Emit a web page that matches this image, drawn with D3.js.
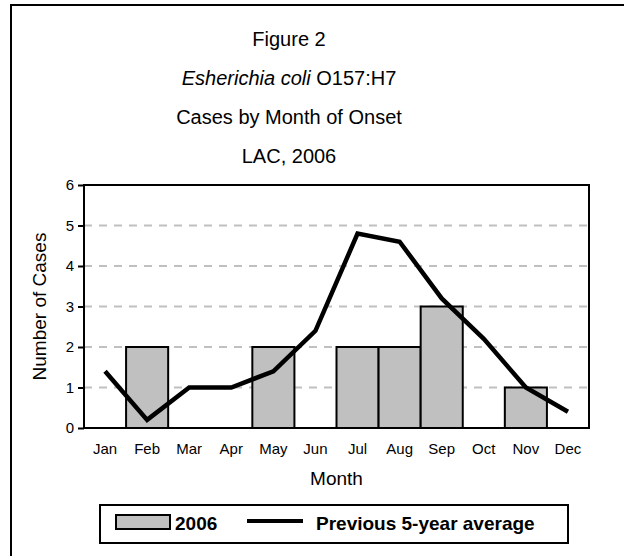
<!DOCTYPE html>
<html>
<head>
<meta charset="utf-8">
<script src="https://cdn.jsdelivr.net/npm/d3@7"></script>
<style>
  html, body { margin: 0; padding: 0; background: #fff; }
  svg { display: block; }
  text { font-family: "Liberation Sans", Arial, sans-serif; fill: #000; }
</style>
</head>
<body>
<svg id="chart" width="624" height="556"></svg>
<script>
const months = ["Jan","Feb","Mar","Apr","May","Jun","Jul","Aug","Sep","Oct","Nov","Dec"];
const cases2006 = [0, 2, 0, 0, 2, 0, 2, 2, 3, 0, 1, 0];
const prev5yrAvg = [1.4, 0.2, 1, 1, 1.4, 2.4, 4.8, 4.6, 3.2, 2.2, 1.0, 0.4];
const yTicks = [0, 1, 2, 3, 4, 5, 6];
const titleLines = ["Figure 2", null, "Cases by Month of Onset", "LAC, 2006"];
const legendLabels = ["2006", "Previous 5-year average"];

const svg = d3.select("#chart");

// outer frame
svg.append("rect").attr("x", 11).attr("y", 5).attr("width", 640).attr("height", 600)
  .attr("fill", "none").attr("stroke", "#000").attr("stroke-width", 2);

// title
const tx = 289, titleY = [46, 85, 124, 163];
const title = svg.append("g").attr("text-anchor", "middle").style("font-size", "20px");
title.append("text").attr("x", tx).attr("y", titleY[0]).text(titleLines[0]);
const t2 = title.append("text").attr("x", tx).attr("y", titleY[1]);
t2.append("tspan").style("font-style", "italic").text("Esherichia coli");
t2.append("tspan").text(" O157:H7");
title.append("text").attr("x", tx).attr("y", titleY[2]).text(titleLines[2]);
title.append("text").attr("x", tx).attr("y", titleY[3]).text(titleLines[3]);

// plot area
const L = 84, R = 589, T = 185, B = 428;
const x = d3.scaleBand().domain(months).range([L, R]).padding(0);
const y = d3.scaleLinear().domain([0, 6]).range([B, T]);

// grid
svg.append("g").selectAll("line").data(yTicks.filter(d => d > 0 && d < 6)).join("line")
  .attr("x1", L).attr("x2", R).attr("y1", d => y(d)).attr("y2", d => y(d))
  .attr("stroke", "#c0c0c0").attr("stroke-width", 2).attr("stroke-dasharray", "8,7");

// bars
svg.append("g").selectAll("rect").data(months.map((m, i) => ({m, v: cases2006[i]})).filter(d => d.v > 0)).join("rect")
  .attr("x", d => x(d.m)).attr("width", x.bandwidth())
  .attr("y", d => y(d.v)).attr("height", d => y(0) - y(d.v))
  .attr("fill", "#c0c0c0").attr("stroke", "#000").attr("stroke-width", 2);

// plot border
svg.append("rect").attr("x", L).attr("y", T).attr("width", R - L).attr("height", B - T)
  .attr("fill", "none").attr("stroke", "#000").attr("stroke-width", 2);

// line
const line = d3.line().x((d, i) => x(months[i]) + x.bandwidth() / 2).y(d => y(d));
svg.append("path").datum(prev5yrAvg).attr("d", line)
  .attr("fill", "none").attr("stroke", "#000").attr("stroke-width", 4.5).attr("stroke-linejoin", "miter");

// y axis
const yAxis = d3.axisLeft(y).tickValues(yTicks).tickSize(6).tickPadding(4).tickFormat(d3.format("d"));
const ya = svg.append("g").attr("transform", `translate(${L},0)`).call(yAxis);
ya.select(".domain").remove();
ya.selectAll(".tick line").attr("stroke", "#000").attr("stroke-width", 2);
ya.selectAll(".tick text").style("font-size", "15px").style("font-family", "Liberation Sans, Arial, sans-serif");

// x axis labels
const xAxis = d3.axisBottom(x).tickSize(0).tickPadding(15);
const xa = svg.append("g").attr("transform", `translate(0,${B})`).call(xAxis);
xa.select(".domain").remove();
xa.selectAll(".tick text").style("font-size", "15px").style("font-family", "Liberation Sans, Arial, sans-serif");

// axis titles
svg.append("text").attr("x", (L + R) / 2).attr("y", 485).attr("text-anchor", "middle")
  .style("font-size", "19px").text("Month");
svg.append("text").attr("transform", `translate(46,${(T + B) / 2}) rotate(-90)`).attr("text-anchor", "middle")
  .style("font-size", "19px").text("Number of Cases");

// legend
const lg = svg.append("g");
lg.append("rect").attr("x", 100).attr("y", 505).attr("width", 468).attr("height", 38)
  .attr("fill", "#fff").attr("stroke", "#000").attr("stroke-width", 2);
lg.append("rect").attr("x", 116).attr("y", 515).attr("width", 54).attr("height", 14)
  .attr("fill", "#c0c0c0").attr("stroke", "#000").attr("stroke-width", 2);
lg.append("text").attr("x", 175).attr("y", 530).style("font-size", "19px").style("font-weight", "bold").text(legendLabels[0]);
lg.append("line").attr("x1", 247).attr("x2", 303).attr("y1", 521).attr("y2", 521)
  .attr("stroke", "#000").attr("stroke-width", 4);
lg.append("text").attr("x", 316).attr("y", 530).style("font-size", "19px").style("font-weight", "bold").text(legendLabels[1]);
</script>
</body>
</html>
